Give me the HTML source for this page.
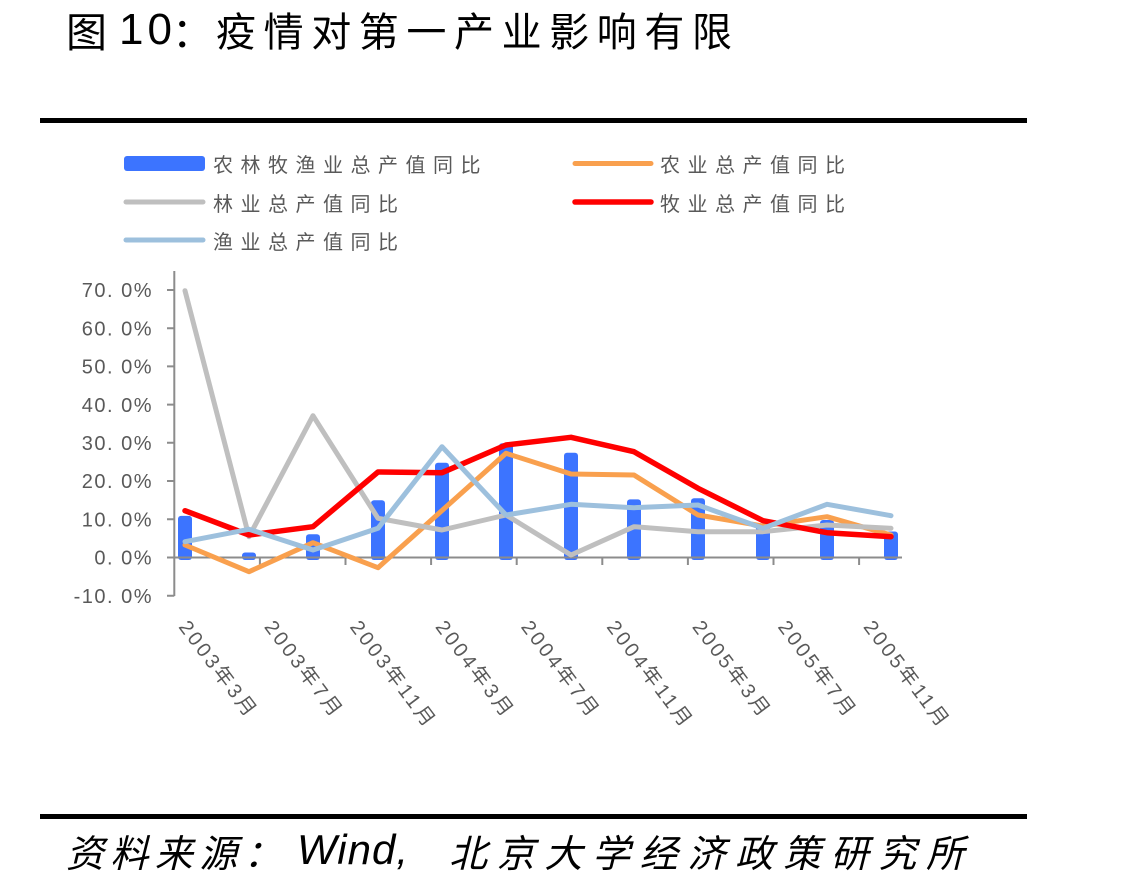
<!DOCTYPE html>
<html><head><meta charset="utf-8">
<style>
html,body{margin:0;padding:0;background:#fff;}
body{width:1140px;height:888px;overflow:hidden;position:relative;}
.t{position:absolute;white-space:nowrap;color:#000;font-family:"Liberation Sans","Noto Sans CJK SC",sans-serif;}
</style></head>
<body>
<!-- Title -->
<div class="t" style="left:66px;top:9px;font-size:41px;line-height:41px;font-family:'Noto Sans CJK SC',sans-serif;">图</div>
<div class="t" style="left:119px;top:8px;font-size:44px;line-height:44px;letter-spacing:4px;">10</div>
<div class="t" style="left:172px;top:9px;font-size:41px;line-height:41px;font-family:'Noto Sans CJK SC',sans-serif;">：</div>
<div class="t" style="left:216px;top:9px;font-size:40px;line-height:41px;letter-spacing:7.6px;font-family:'Noto Sans CJK SC',sans-serif;">疫情对第一产业影响有限</div>

<!-- rules -->
<div style="position:absolute;left:40px;top:118px;width:987px;height:5px;background:#000;"></div>
<div style="position:absolute;left:40px;top:814px;width:987px;height:5px;background:#000;"></div>

<!-- source -->
<div class="t" style="left:66px;top:831px;font-size:38px;line-height:40px;letter-spacing:6.4px;font-style:italic;font-family:'Noto Sans CJK SC',sans-serif;">资料来源：</div>
<div class="t" style="left:297px;top:828px;font-size:42px;line-height:44px;letter-spacing:1px;font-style:italic;">Wind,</div>
<div class="t" style="left:449px;top:831px;font-size:38px;line-height:40px;letter-spacing:9.7px;font-style:italic;font-family:'Noto Sans CJK SC',sans-serif;">北京大学经济政策研究所</div>

<svg width="1140" height="888" style="position:absolute;left:0;top:0;" xmlns="http://www.w3.org/2000/svg">
<g font-family="'Noto Sans CJK SC', sans-serif" font-size="20" fill="#595959" letter-spacing="7.5">
  <rect x="124" y="156" width="81" height="15" rx="3" fill="#3C74FF"/>
  <text x="213" y="172">农林牧渔业总产值同比</text>
  <line x1="126" y1="202" x2="203" y2="202" stroke="#BFBFBF" stroke-width="5" stroke-linecap="round"/>
  <text x="213" y="211">林业总产值同比</text>
  <line x1="126" y1="240" x2="203" y2="240" stroke="#9DC0DD" stroke-width="5" stroke-linecap="round"/>
  <text x="213" y="249">渔业总产值同比</text>
  <line x1="575" y1="163.5" x2="651" y2="163.5" stroke="#F9A04E" stroke-width="5" stroke-linecap="round"/>
  <text x="660" y="172">农业总产值同比</text>
  <line x1="575" y1="202" x2="651" y2="202" stroke="#FF0000" stroke-width="5.5" stroke-linecap="round"/>
  <text x="660" y="211">牧业总产值同比</text>
</g>

<!-- y labels -->
<g font-family="'Liberation Sans', sans-serif" font-size="20" fill="#595959" text-anchor="end" letter-spacing="1.5">
  <text x="153" y="297.2">70. 0%</text>
  <text x="153" y="335.4">60. 0%</text>
  <text x="153" y="373.6">50. 0%</text>
  <text x="153" y="411.8">40. 0%</text>
  <text x="153" y="450.0">30. 0%</text>
  <text x="153" y="488.2">20. 0%</text>
  <text x="153" y="526.4">10. 0%</text>
  <text x="153" y="564.7">0. 0%</text>
  <text x="153" y="602.9">-10. 0%</text>
</g>

<!-- bars -->
<g fill="#3C74FF">
  <rect x="178" y="515.9" width="14" height="44.1" rx="3"/>
  <rect x="242" y="552.5" width="14" height="7.5" rx="3"/>
  <rect x="306" y="534.2" width="14" height="25.8" rx="3"/>
  <rect x="371" y="500.2" width="14" height="59.8" rx="3"/>
  <rect x="435" y="462.7" width="14" height="97.3" rx="3"/>
  <rect x="499" y="443.3" width="14" height="116.7" rx="3"/>
  <rect x="564" y="452.8" width="14" height="107.2" rx="3"/>
  <rect x="627" y="499.4" width="14" height="60.6" rx="3"/>
  <rect x="691" y="498.3" width="14" height="61.7" rx="3"/>
  <rect x="756" y="525.0" width="14" height="35.0" rx="3"/>
  <rect x="820" y="520.0" width="14" height="40.0" rx="3"/>
  <rect x="884" y="531.5" width="14" height="28.5" rx="3"/>
</g>

<!-- axes -->
<g stroke="#8C8C8C" stroke-width="2" fill="none">
  <line x1="174.3" y1="271" x2="174.3" y2="596"/>
  <line x1="167" y1="557.5" x2="902" y2="557.5"/>
  <path d="M167 290H174.3M167 328.2H174.3M167 366.4H174.3M167 404.6H174.3M167 442.8H174.3M167 481H174.3M167 519.3H174.3M167 595.7H174.3"/>
  <path d="M259.9 557.5V565M345.5 557.5V565M431.1 557.5V565M516.7 557.5V565M602.3 557.5V565M687.9 557.5V565M773.5 557.5V565M859.1 557.5V565"/>
</g>

<!-- lines -->
<g fill="none" stroke-linejoin="round" stroke-linecap="round">
  <polyline stroke="#F9A04E" stroke-width="5" points="185,545 249,571.7 313,542.7 378,567.7 442,510.5 506,453.3 571,474 634,475 698,515 763,526 827,516.7 891,535"/>
  <polyline stroke="#BFBFBF" stroke-width="5" points="185,290.7 249,536.7 313,415.7 378,518.3 442,530 506,515 571,555 634,526.7 698,531.7 763,531.7 827,525 891,528.3"/>
  <polyline stroke="#FF0000" stroke-width="5.5" points="185,510.7 249,535 313,526.7 378,472 442,472.7 506,445 571,437.3 634,451.7 698,488.3 763,520.7 827,532.7 891,536.7"/>
  <polyline stroke="#9DC0DD" stroke-width="5" points="185,541.7 249,529.3 313,550 378,528.3 442,446.7 506,515 571,504.3 634,507.7 698,505 763,528.3 827,504.3 891,515.7"/>
</g>

<!-- x labels -->
<g font-family="'Liberation Sans', 'Noto Sans CJK SC', sans-serif" font-size="20" fill="#595959" letter-spacing="3">
  <text transform="translate(178,627) rotate(53)">2003年3月</text>
  <text transform="translate(263.6,627) rotate(53)">2003年7月</text>
  <text transform="translate(349.2,627) rotate(53)">2003年11月</text>
  <text transform="translate(434.8,627) rotate(53)">2004年3月</text>
  <text transform="translate(520.4,627) rotate(53)">2004年7月</text>
  <text transform="translate(606,627) rotate(53)">2004年11月</text>
  <text transform="translate(691.6,627) rotate(53)">2005年3月</text>
  <text transform="translate(777.2,627) rotate(53)">2005年7月</text>
  <text transform="translate(862.8,627) rotate(53)">2005年11月</text>
</g>
</svg>
</body></html>
